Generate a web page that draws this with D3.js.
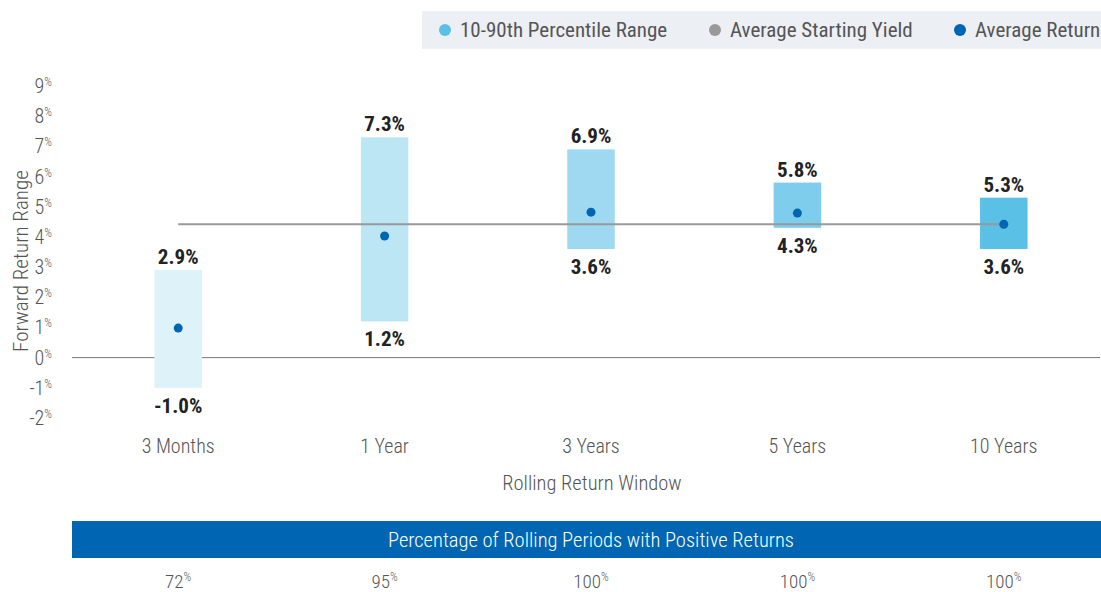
<!DOCTYPE html>
<head>
  <meta charset="utf-8">
  <title>Forward return range</title>
  <style>
    body { margin: 0; background: #fff; }
    svg text { font-family: "Roboto Condensed", "Liberation Sans Narrow", "DejaVu Sans Condensed", Roboto, sans-serif; font-weight: 300; }
  </style>
</head>
<body>
<svg width="1101" height="592"></svg>
<script src="https://d3js.org/d3.v7.min.js"></script>
<script>

var windows = ["3 Months", "1 Year", "3 Years", "5 Years", "10 Years"];
var low = [-1.0, 1.2, 3.6, 4.3, 3.6];
var high = [2.9, 7.3, 6.9, 5.8, 5.3];
var avgReturn = [0.98, 4.03, 4.82, 4.79, 4.42];
var startYield = 4.42;
var positivePct = [72, 95, 100, 100, 100];
var yTicks = [-2, -1, 0, 1, 2, 3, 4, 5, 6, 7, 8, 9];
var barColors = ["#def2fa", "#bde6f5", "#9fd8f1", "#7fcdec", "#5ac0e6"];

var svg = d3.select("svg");

var x = d3.scaleBand().domain(windows).range([75, 1107]).paddingInner(0.77).paddingOuter(0.385);
var y = d3.scaleLinear().domain([-2, 9]).range([418, 86]);

var rows = windows.map(function(w, i) {
  return { name: w, low: low[i], high: high[i], avg: avgReturn[i], pct: positivePct[i], color: barColors[i] };
});

// y tick labels with the small % sign
var yt = svg.append("g").selectAll("text").data(yTicks).enter().append("text")
    .attr("x", 52).attr("y", function(d) { return y(d) + 7; })
    .attr("text-anchor", "end").attr("fill", "#555").style("font-size", "20px");
yt.append("tspan").text(function(d) { return d; });
yt.append("tspan").attr("dy", -7).style("font-size", "12px").text("%");

svg.append("text")
    .attr("transform", "translate(28," + y(3.2) + ") rotate(-90)")
    .attr("text-anchor", "middle").attr("fill", "#555").style("font-size", "21px")
    .text("Forward Return Range");

// zero line
svg.append("line")
    .attr("x1", 72).attr("x2", 1100).attr("y1", y(0)).attr("y2", y(0))
    .attr("stroke", "#777").attr("stroke-width", 1);

// range bars
svg.append("g").selectAll("rect").data(rows).enter().append("rect")
    .attr("x", function(d) { return x(d.name); })
    .attr("width", x.bandwidth())
    .attr("y", function(d) { return y(d.high); })
    .attr("height", function(d) { return y(d.low) - y(d.high); })
    .attr("fill", function(d) { return d.color; });

// average starting yield line
svg.append("line")
    .attr("x1", x(windows[0]) + x.bandwidth() / 2)
    .attr("x2", x(windows[4]) + x.bandwidth() / 2)
    .attr("y1", y(startYield)).attr("y2", y(startYield))
    .attr("stroke", "#999").attr("stroke-width", 2);

// average return dots
svg.append("g").selectAll("circle").data(rows).enter().append("circle")
    .attr("cx", function(d) { return x(d.name) + x.bandwidth() / 2; })
    .attr("cy", function(d) { return y(d.avg); })
    .attr("r", 4.5).attr("fill", "#0066b3");

// value labels
var labels = svg.append("g").attr("fill", "#222").attr("text-anchor", "middle");
labels.selectAll(".hi").data(rows).enter().append("text")
    .attr("x", function(d) { return x(d.name) + x.bandwidth() / 2; })
    .attr("y", function(d) { return y(d.high) - 6; })
    .style("font-size", "21px").style("font-weight", "700")
    .text(function(d) { return d.high.toFixed(1) + "%"; });
labels.selectAll(".lo").data(rows).enter().append("text")
    .attr("x", function(d) { return x(d.name) + x.bandwidth() / 2; })
    .attr("y", function(d) { return y(d.low) + 25; })
    .style("font-size", "21px").style("font-weight", "700")
    .text(function(d) { return d.low.toFixed(1) + "%"; });

// x labels
svg.append("g").selectAll("text").data(windows).enter().append("text")
    .attr("x", function(d) { return x(d) + x.bandwidth() / 2; })
    .attr("y", 453).attr("text-anchor", "middle").attr("fill", "#555").style("font-size", "20px")
    .text(function(d) { return d; });

svg.append("text")
    .attr("x", 592).attr("y", 490).attr("text-anchor", "middle").attr("fill", "#555").style("font-size", "20.5px")
    .text("Rolling Return Window");

// banner
svg.append("rect").attr("x", 72).attr("y", 521).attr("width", 1029).attr("height", 37).attr("fill", "#0066b3");
svg.append("text").attr("x", 591).attr("y", 547).attr("text-anchor", "middle").attr("fill", "#fff")
    .style("font-size", "20.5px").text("Percentage of Rolling Periods with Positive Returns");

var pt = svg.append("g").selectAll("text").data(rows).enter().append("text")
    .attr("x", function(d) { return x(d.name) + x.bandwidth() / 2; })
    .attr("y", 588).attr("text-anchor", "middle").attr("fill", "#555").style("font-size", "19px");
pt.append("tspan").text(function(d) { return d.pct; });
pt.append("tspan").attr("dy", -7).style("font-size", "12px").text("%");

// legend
var legendItems = [
  { label: "10-90th Percentile Range", color: "#5ac0e6", x: 445 },
  { label: "Average Starting Yield", color: "#999", x: 715 },
  { label: "Average Return", color: "#0066b3", x: 960 }
];
svg.append("rect").attr("x", 422).attr("y", 11).attr("width", 679).attr("height", 38).attr("fill", "#eceff4");
var lg = svg.append("g").selectAll("g").data(legendItems).enter().append("g");
lg.append("circle").attr("cx", function(d) { return d.x; }).attr("cy", 30).attr("r", 6)
    .attr("fill", function(d) { return d.color; });
lg.append("text").attr("x", function(d) { return d.x + 15; }).attr("y", 37)
    .attr("fill", "#555").style("font-size", "21px").style("font-weight", "400")
    .text(function(d) { return d.label; });

</script>
</body>
